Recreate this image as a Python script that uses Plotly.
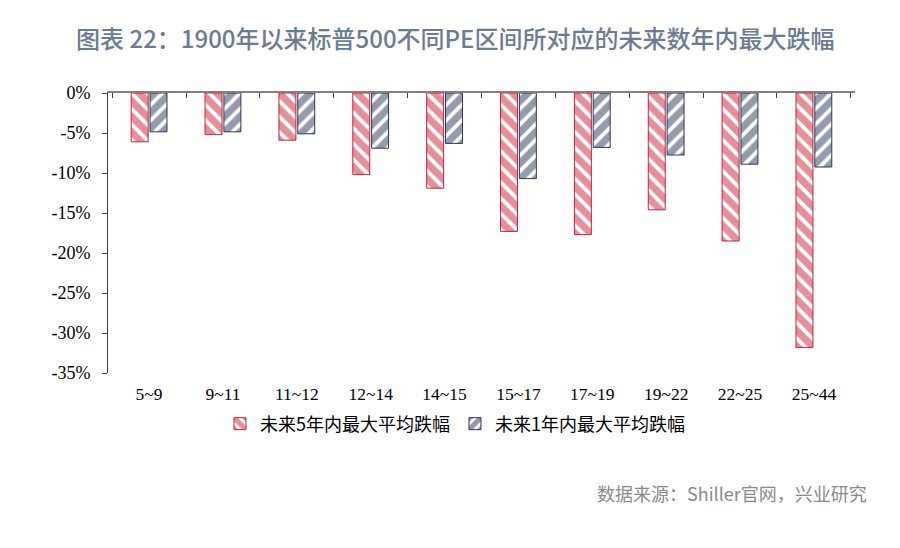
import plotly.graph_objects as go

# === PE buckets and drawdowns (%)
categories = ["5~9", "9~11", "11~12", "12~14", "14~15", "15~17", "17~19", "19~22", "22~25", "25~44"]
drop_5y = [-6.1, -5.2, -5.9, -10.2, -11.9, -17.3, -17.7, -14.6, -18.5, -31.8]
drop_1y = [-4.85, -4.85, -5.1, -6.9, -6.3, -10.7, -6.8, -7.75, -8.9, -9.25]
y_ticks = [0, -5, -10, -15, -20, -25, -30, -35]
y_labels = ["0%", "-5%", "-10%", "-15%", "-20%", "-25%", "-30%", "-35%"]

RED = "#cc1f37"
BLUE = "#2a3756"
CJK = "Noto Sans CJK SC"

fig = go.Figure()
fig.add_bar(
    x=categories, y=drop_5y, name="未来5年内最大平均跌幅",
    marker=dict(color="white", line=dict(color=RED, width=1),
                pattern=dict(shape="\\", fgcolor=RED, bgcolor="white", size=11, solidity=0.65)),
)
fig.add_bar(
    x=categories, y=drop_1y, name="未来1年内最大平均跌幅",
    marker=dict(color="white", line=dict(color=BLUE, width=1),
                pattern=dict(shape="/", fgcolor=BLUE, bgcolor="white", size=11, solidity=0.65)),
)
# helper trace so the top axis (zero line with ticks) gets the categories
fig.add_scatter(x=categories, y=[None] * len(categories), xaxis="x2",
                mode="markers", showlegend=False, hoverinfo="skip")

fig.update_layout(
    width=900, height=548,
    paper_bgcolor="white", plot_bgcolor="white",
    margin=dict(l=100, r=53, t=85, b=183, autoexpand=False),
    barmode="group", bargap=0.49, bargroupgap=0.1,
    title=dict(text="图表 22：1900年以来标普500不同PE区间所对应的未来数年内最大跌幅",
               x=0.497, xanchor="center", y=0.942, yanchor="middle",
               font=dict(family=CJK, size=24, color="#6b7b93", weight=500)),
    xaxis=dict(type="category", showline=False, ticks="", showgrid=False,
               tickfont=dict(family="Liberation Serif", size=17.5, color="black"),
               ticklabelstandoff=8),
    xaxis2=dict(type="category", overlaying="x", side="top", matches="x",
                showline=True, linecolor="#808080", linewidth=1.5,
                ticks="inside", tickson="boundaries", ticklen=5, tickcolor="#404040",
                showticklabels=False, showgrid=False),
    yaxis=dict(range=[-35, 0], tickvals=y_ticks, ticktext=y_labels,
               showline=True, linecolor="#404040", linewidth=1,
               ticks="outside", ticklen=5, tickcolor="#404040",
               showgrid=False, zeroline=False, ticklabelstandoff=8,
               tickfont=dict(family="Liberation Serif", size=18, color="black")),
    legend=dict(orientation="h", x=0.4645, xanchor="center", y=-0.182, yanchor="middle",
                font=dict(family=CJK, size=18, color="black"),
                itemwidth=30, tracegroupgap=0),
    showlegend=True,
    annotations=[dict(text="数据来源：Shiller官网，兴业研究", xref="paper", yref="paper",
                      x=1.0187, xanchor="right", y=-0.4286, yanchor="middle", showarrow=False,
                      font=dict(family=CJK, size=18, color="#8a8a8a"))],
)

fig.write_html("out.html")
